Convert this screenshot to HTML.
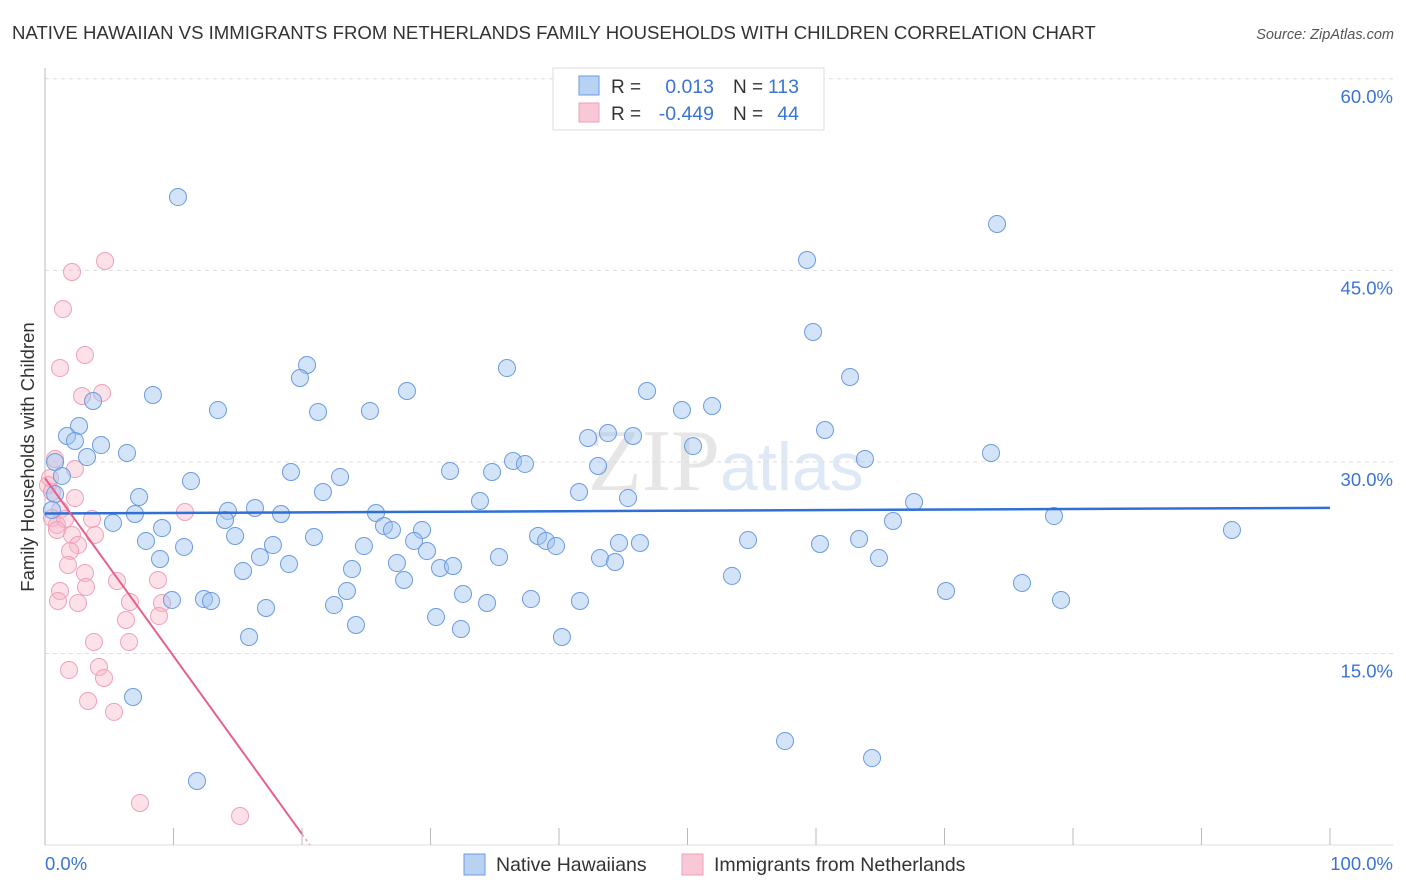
<!DOCTYPE html>
<html><head><meta charset="utf-8"><style>
body{margin:0;background:#fff;font-family:"Liberation Sans",sans-serif;}
svg{display:block}
</style></head><body>
<svg id="chart" width="1406" height="892">
<text x="12" y="39" font-size="18.6" fill="#333">NATIVE HAWAIIAN VS IMMIGRANTS FROM NETHERLANDS FAMILY HOUSEHOLDS WITH CHILDREN CORRELATION CHART</text>
<text x="1394" y="39" font-size="14.5" fill="#555" font-style="italic" text-anchor="end">Source: ZipAtlas.com</text>
<text x="720" y="490" font-size="88" fill="#e6e6e6" text-anchor="end" font-family="Liberation Serif,serif">ZIP</text>
<text x="720" y="490" font-size="68" fill="#dfe9f6">atlas</text>
<g id="grid"></g><g id="axes"></g><g id="pts"></g><g id="trend"></g>
<text transform="translate(34,457) rotate(-90)" font-size="18.5" fill="#333" text-anchor="middle">Family Households with Children</text>
<g>
<rect x="553" y="68" width="271" height="62" fill="#fff" stroke="#ddd"/>
<rect x="579" y="76" width="20" height="19" fill="#b8d2f3" stroke="#6a9be0"/>
<rect x="579" y="103" width="20" height="19" fill="#f9c8d6" stroke="#f0a0b8"/>
<text x="611" y="93" font-size="19" fill="#333">R =</text>
<text x="714" y="93" font-size="19.5" fill="#3a74d6" text-anchor="end">0.013</text>
<text x="733" y="93" font-size="19" fill="#333">N =</text>
<text x="799" y="93" font-size="19.5" fill="#3a74d6" text-anchor="end">113</text>
<text x="611" y="120" font-size="19" fill="#333">R =</text>
<text x="714" y="120" font-size="19.5" fill="#3a74d6" text-anchor="end">-0.449</text>
<text x="733" y="120" font-size="19" fill="#333">N =</text>
<text x="799" y="120" font-size="19.5" fill="#3a74d6" text-anchor="end">44</text>
</g>
<g>
<rect x="464" y="854" width="21" height="21" fill="#b8d2f3" stroke="#6a9be0"/>
<text x="496" y="871" font-size="19.5" fill="#333">Native Hawaiians</text>
<rect x="682" y="854" width="21" height="21" fill="#f9c8d6" stroke="#f0a0b8"/>
<text x="714" y="871" font-size="19.5" fill="#333">Immigrants from Netherlands</text>
</g>
</svg>
<script>
const yTicks=[15,30,45,60];
const yTickLabels=["15.0%","30.0%","45.0%","60.0%"];
const xTickLabels=["0.0%","100.0%"];
const blueX=[10.35,74.09,59.30,59.77,20.39,19.84,35.95,62.65,28.17,8.40,3.74,46.85,13.46,21.25,25.29,49.57,51.91,2.65,60.70,1.71,2.33,4.36,42.26,43.81,45.76,50.43,6.38,3.27,0.78,73.62,36.42,37.35,43.04,63.81,1.32,19.14,31.52,34.79,11.36,22.96,21.63,7.32,41.56,45.37,33.85,67.63,0.78,0.54,5.29,7.00,16.34,14.24,18.37,25.76,78.52,65.99,14.01,26.38,27.00,9.11,92.37,14.79,20.93,7.86,38.37,38.99,29.34,28.72,10.82,17.74,24.82,39.77,46.30,44.67,54.71,60.31,63.35,29.73,16.73,8.95,35.33,27.39,18.99,43.19,44.36,64.90,15.41,23.89,30.74,31.75,53.46,27.94,76.03,23.50,32.53,70.12,9.88,12.37,12.92,22.49,17.20,37.82,41.63,34.40,79.07,30.43,24.20,32.37,15.88,40.23,6.85,57.59,64.36,11.83];
const blueY=[50.74,48.63,45.81,40.17,37.59,36.57,37.35,36.65,35.55,35.24,34.77,35.55,34.06,33.91,33.99,34.06,34.38,32.81,32.50,32.03,31.64,31.32,31.87,32.26,32.03,31.24,30.70,30.38,29.99,30.70,30.07,29.84,29.68,30.23,28.90,29.21,29.29,29.21,28.50,28.82,27.64,27.25,27.64,27.17,26.94,26.86,27.49,26.23,25.22,25.92,26.39,26.16,25.92,26.00,25.76,25.37,25.45,24.98,24.67,24.82,24.67,24.20,24.12,23.81,24.20,23.81,24.67,23.81,23.34,23.49,23.41,23.41,23.65,23.65,23.88,23.57,23.96,23.02,22.55,22.40,22.55,22.08,22.00,22.47,22.16,22.47,21.46,21.61,21.69,21.85,21.07,20.75,20.52,19.89,19.66,19.89,19.19,19.26,19.11,18.79,18.56,19.26,19.11,18.95,19.19,17.85,17.23,16.91,16.29,16.29,11.59,8.14,6.81,5.01];
const pinkX=[4.67,2.10,1.40,3.11,1.17,4.44,2.88,0.78,2.33,0.39,0.23,0.54,2.33,1.17,0.54,0.93,3.66,10.89,1.56,2.10,3.89,2.57,1.95,0.93,1.79,3.11,5.60,8.79,1.17,1.01,2.57,6.61,9.11,3.19,8.87,6.30,6.54,3.81,4.20,1.87,4.59,3.35,5.37,7.39,15.18];
const pinkY=[45.73,44.87,41.97,38.37,37.35,35.40,35.16,30.23,29.44,28.74,28.19,27.64,27.17,26.23,25.61,25.06,25.53,26.08,25.53,24.28,24.28,23.49,23.02,24.67,21.93,21.30,20.67,20.75,19.89,19.11,18.95,19.03,18.95,20.20,17.93,17.62,15.90,15.90,13.94,13.70,13.08,11.28,10.42,3.29,2.27];
const X0=45,X1=1330,Y0=845,PXY=12.77;
const sx=v=>X0+(X1-X0)*v/100, sy=v=>Y0-v*PXY;
const NS="http://www.w3.org/2000/svg";
function mk(tag,attrs,parent){const e=document.createElementNS(NS,tag);for(const k in attrs)e.setAttribute(k,attrs[k]);document.getElementById(parent).appendChild(e);return e;}
yTicks.forEach((t,i)=>{
 const g=mk('line',{x1:X0,x2:1393,y1:sy(t),y2:sy(t),stroke:'#ddd','stroke-dasharray':'4,4'},'grid');
 
 
 const l=mk('text',{x:1393,y:sy(t)+24,'font-size':18.5,fill:'#3a74d6','text-anchor':'end'},'axes');
 l.textContent=yTickLabels[i];
 
 
});
const ya=mk('line',{x1:X0,x2:X0,y1:68,y2:Y0,stroke:'#bbb'},'axes');


const xa=mk('line',{x1:X0,x2:1393,y1:Y0,y2:Y0,stroke:'#ddd'},'axes');


for(let i=0;i<=10;i++){const t=mk('line',{x1:sx(i*10),x2:sx(i*10),y1:828,y2:Y0,stroke:'#bbb'},'axes');
 
 }
[[0,'start',45],[100,'end',1393]].forEach((a,i)=>{const l=mk('text',{x:a[2],y:870,'font-size':18.5,fill:'#3a74d6','text-anchor':a[1]},'axes');l.textContent=xTickLabels[i];
 
 });
pinkX.forEach((x,i)=>{const c=mk('circle',{cx:sx(x),cy:sy(pinkY[i]),r:8.5,fill:'rgba(248,180,200,0.4)',stroke:'#f0a0b8','stroke-width':1},'pts');
 
 });
blueX.forEach((x,i)=>{const c=mk('circle',{cx:sx(x),cy:sy(blueY[i]),r:8.5,fill:'rgba(160,196,240,0.45)',stroke:'#6a9be0','stroke-width':1},'pts');
 
 });
function fit(xs,ys){const n=xs.length,mx=xs.reduce((a,b)=>a+b)/n,my=ys.reduce((a,b)=>a+b)/n;let sxy=0,sxx=0;xs.forEach((x,i)=>{sxy+=(x-mx)*(ys[i]-my);sxx+=(x-mx)**2});const b=sxy/sxx;return [my-b*mx,b];}
const bf=fit(blueX,blueY);
const bl=mk('line',{x1:sx(0),y1:sy(bf[0]),x2:sx(100),y2:sy(bf[0]+bf[1]*100),stroke:'#2f6fd6','stroke-width':2.5},'trend');


const pf=fit(pinkX,pinkY);
const xEnd=20, xZero=-pf[0]/pf[1];
const pl=mk('line',{x1:sx(0),y1:sy(pf[0]),x2:sx(xEnd),y2:sy(pf[0]+pf[1]*xEnd),stroke:'#e8608a','stroke-width':2},'trend');


const pd=mk('line',{x1:sx(xEnd),y1:sy(pf[0]+pf[1]*xEnd),x2:sx(xZero),y2:sy(0),stroke:'#f0a0b8','stroke-width':1.5,'stroke-dasharray':'3,3'},'trend');


</script>
</body></html>
